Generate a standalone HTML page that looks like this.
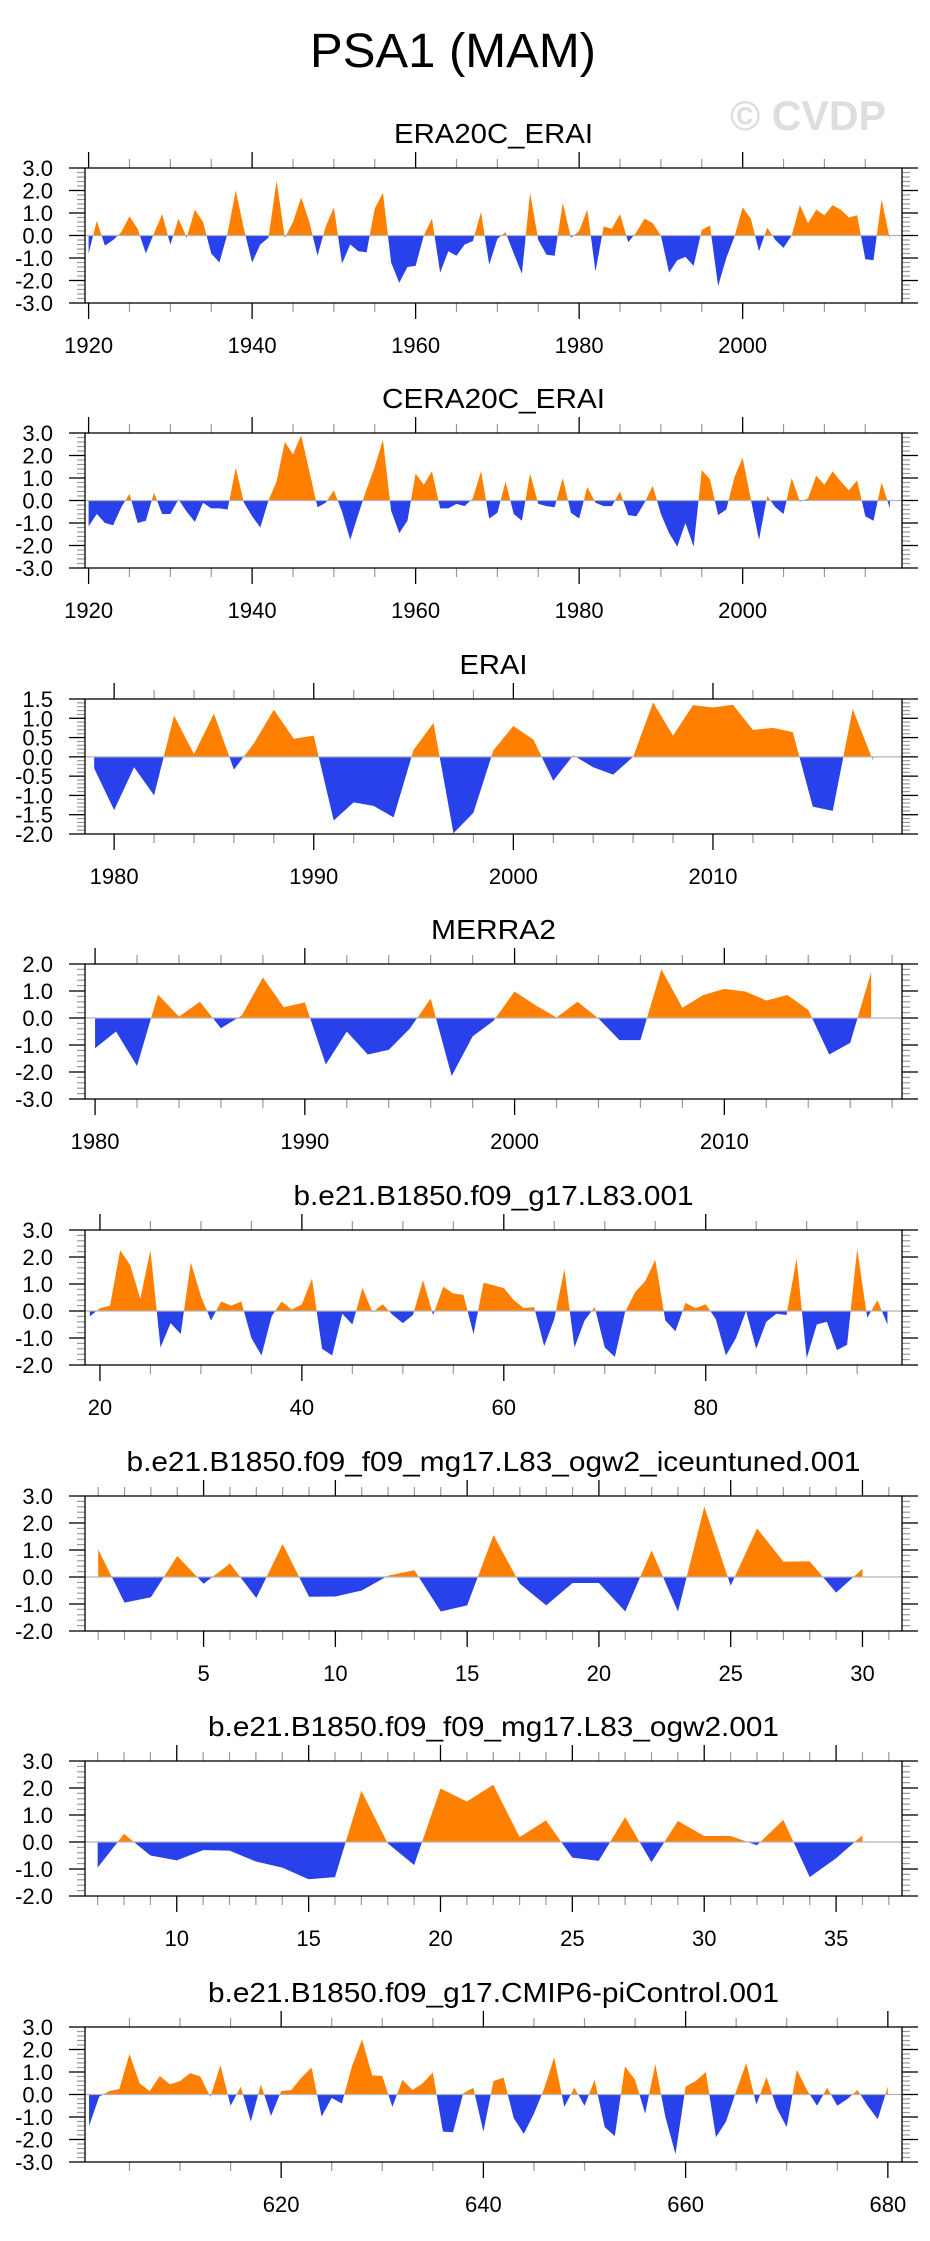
<!DOCTYPE html>
<html><head><meta charset="utf-8">
<style>
html,body{margin:0;padding:0;background:#fff;}
svg{display:block;font-family:"Liberation Sans",Arial,sans-serif;}
</style></head>
<body>
<svg id="chart" width="930" height="2241" viewBox="0 0 930 2241" xmlns="http://www.w3.org/2000/svg">
<rect x="0" y="0" width="930" height="2241" fill="#fff"/>
<text x="453" y="67" font-size="48" text-anchor="middle" textLength="286" lengthAdjust="spacingAndGlyphs">PSA1 (MAM)</text>
<text x="808" y="130" font-size="42" font-weight="bold" fill="#dedede" text-anchor="middle" textLength="156" lengthAdjust="spacingAndGlyphs">© CVDP</text>
</svg>
<script>
const titles = ["ERA20C_ERAI","CERA20C_ERAI","ERAI","MERRA2","b.e21.B1850.f09_g17.L83.001","b.e21.B1850.f09_f09_mg17.L83_ogw2_iceuntuned.001","b.e21.B1850.f09_f09_mg17.L83_ogw2.001","b.e21.B1850.f09_g17.CMIP6-piControl.001"];
const startYears = [1920,1920,1979,1980,19,1,7,601];
const era20c = [-0.8,0.65,-0.45,-0.2,0.15,0.85,0.3,-0.8,0.1,0.95,
-0.4,0.75,-0.1,1.15,0.6,-0.8,-1.2,0.1,2.0,0.3,
-1.2,-0.4,-0.1,2.45,-0.1,0.6,1.7,0.6,-0.9,0.4,
1.25,-1.25,-0.4,-0.7,-0.75,1.2,1.9,-1.2,-2.1,-1.4,
-1.35,0.0,0.75,-1.65,-0.7,-0.9,-0.4,-0.25,1.05,-1.3,
-0.15,0.15,-0.8,-1.7,1.9,-0.2,-0.85,-0.9,1.45,-0.1,
0.2,1.15,-1.6,0.4,0.3,0.95,-0.3,0.15,0.75,0.55,
0.0,-1.65,-1.1,-0.95,-1.35,0.25,0.45,-2.25,-1.0,-0.05,
1.25,0.75,-0.7,0.35,-0.2,-0.55,0.0,1.35,0.55,1.15,
0.9,1.35,1.15,0.8,0.9,-1.05,-1.1,1.6,-0.15];
const cera20c = [-1.15,-0.6,-1.0,-1.1,-0.3,0.3,-1.0,-0.9,0.35,-0.6,
-0.6,0.05,-0.5,-0.95,-0.1,-0.35,-0.35,-0.4,1.45,-0.1,
-0.7,-1.2,0.0,0.85,2.6,2.05,2.9,1.3,-0.3,-0.1,
0.45,-0.5,-1.75,-0.6,0.5,1.5,2.7,-0.45,-1.45,-0.9,
1.2,0.7,1.3,-0.35,-0.35,-0.15,-0.25,0.1,1.3,-0.8,
-0.55,0.85,-0.6,-0.9,1.2,-0.15,-0.25,-0.3,1.0,-0.55,
-0.8,0.6,-0.1,-0.25,-0.25,0.4,-0.65,-0.7,-0.1,0.65,
-0.6,-1.45,-2.05,-1.0,-2.05,1.35,0.95,-0.65,-0.4,1.05,
1.9,0.05,-1.75,0.2,-0.3,-0.6,1.0,-0.05,0.1,1.1,
0.7,1.3,0.85,0.45,0.9,-0.7,-0.9,0.8,-0.35];
const erai = [-0.3,-1.38,-0.27,-1.0,1.07,0.07,1.12,-0.33,0.35,1.22,0.47,0.55,-1.65,-1.18,-1.27,-1.57,0.18,0.88,-1.98,-1.45,0.17,0.8,0.45,-0.62,0.04,-0.27,-0.46,0.0,1.41,0.55,1.34,1.28,1.35,0.70,0.75,0.64,-1.29,-1.4,1.24,-0.08];
const merra2 = [-1.12,-0.5,-1.78,0.87,0.05,0.6,-0.38,0.1,1.5,0.4,0.58,-1.72,-0.5,-1.35,-1.18,-0.4,0.72,-2.15,-0.68,-0.1,0.98,0.47,0.02,0.6,-0.02,-0.82,-0.82,1.8,0.38,0.85,1.08,0.98,0.65,0.85,0.3,-1.35,-0.92,1.7];
const l83 = [-0.2,0.1,0.2,2.25,1.7,0.45,2.25,-1.35,-0.45,-0.85,1.8,0.55,-0.35,0.35,0.2,0.35,-1.0,-1.65,-0.2,0.35,0.05,0.25,1.2,-1.4,-1.65,-0.1,-0.5,0.85,-0.05,0.25,-0.15,-0.45,-0.15,1.15,-0.15,0.9,0.65,0.6,-0.85,1.05,0.95,0.85,0.4,0.1,0.15,-1.3,-0.3,1.55,-1.35,-0.35,0.15,-1.35,-1.7,-0.05,0.7,1.1,1.9,-0.35,-0.75,0.3,0.1,0.25,-0.3,-1.65,-1.0,0.0,-1.4,-0.4,-0.1,-0.15,1.95,-1.75,-0.5,-0.4,-1.45,-1.25,2.3,-0.25,0.4,-0.5];
const iceuntuned = [1.02,-0.95,-0.75,0.78,-0.25,0.5,-0.78,1.22,-0.73,-0.72,-0.5,0.05,0.25,-1.28,-1.05,1.55,-0.25,-1.05,-0.22,-0.22,-1.28,0.98,-1.28,2.6,-0.32,1.8,0.57,0.58,-0.58,0.3];
const ogw2 = [-0.95,0.3,-0.5,-0.68,-0.3,-0.32,-0.72,-0.95,-1.38,-1.3,1.9,-0.05,-0.85,1.98,1.5,2.12,0.18,0.8,-0.58,-0.7,0.92,-0.75,0.78,0.22,0.22,-0.12,0.82,-1.3,-0.6,0.25];
const picontrol = [-1.4,-0.1,0.15,0.25,1.8,0.5,0.15,0.82,0.45,0.6,0.95,0.8,-0.1,1.3,-0.5,0.35,-1.2,0.45,-0.95,0.15,0.2,0.75,1.2,-0.98,-0.15,-0.4,1.25,2.45,0.85,0.82,-0.55,0.65,0.2,0.5,0.98,-1.65,-1.68,0.05,0.3,-1.65,0.6,0.75,-1.05,-1.75,-0.85,0.25,1.65,-0.55,0.3,-0.5,0.65,-1.45,-1.85,1.25,0.65,-0.85,1.35,-1.0,-2.65,0.35,0.6,1.0,-1.9,-1.2,0.15,1.4,-0.45,0.78,-0.6,-1.45,1.1,0.2,-0.5,0.3,-0.5,-0.2,0.2,-0.5,-1.1,0.35];
const seriesList = [era20c,cera20c,erai,merra2,l83,iceuntuned,ogw2,picontrol];
const xMins = [1919.56,1919.56,1978.54,1979.52,18.52,0.5,6.52,600.6];
const xMaxs = [2019.49,2019.49,2019.47,2018.47,99.44,31.5,37.5,681.4];
const yMins = [-3,-3,-2,-3,-2,-2,-2,-3];
const yMaxs = [3,3,1.5,2,3,3,3,3];
const yLabelSteps = [1,1,0.5,1,1,1,1,1];
const yMinorSteps = [0.2,0.2,0.1,0.2,0.2,0.2,0.2,0.2];
const xMajorSteps = [20,20,10,10,20,5,5,20];
const xMinorSteps = [5,5,2,2,5,1,1,5];
const titleWidths = [199,223,68,125,400,734,571,571];

const NS = "http://www.w3.org/2000/svg";
const svg = document.getElementById('chart');
const BX0 = 85, BX1 = 902, BH = 135;
const tops = [168,433,699,964,1230,1496,1761,2027];
function mk(tag, attrs, parent){ const e=document.createElementNS(NS,tag); for(const k in attrs) e.setAttribute(k,attrs[k]); (parent||svg).appendChild(e); return e; }

for(let p=0;p<8;p++){
  const top=tops[p], bot=top+BH;
  const g = mk('g',{});
  
  
  const xs = v => BX0 + (v - xMins[p])/(xMaxs[p]-xMins[p])*(BX1-BX0);
  const ys = v => top + (yMaxs[p]-v)/(yMaxs[p]-yMins[p])*BH;
  const zy = ys(0);
  const t = mk('text',{x:493.5,y:top-25,'font-size':28,'text-anchor':'middle',textLength:titleWidths[p],lengthAdjust:'spacingAndGlyphs'},g);
  t.textContent = titles[p];
  
  
  const defs = mk('defs',{},g);
  const cu = mk('clipPath',{id:'cu'+p},defs); mk('rect',{x:BX0,y:top,width:BX1-BX0,height:zy-top},cu);
  const cd = mk('clipPath',{id:'cd'+p},defs); mk('rect',{x:BX0,y:zy,width:BX1-BX0,height:bot-zy},cd);
  const data = seriesList[p];
  let pts = xs(startYears[p]).toFixed(2)+','+zy.toFixed(2)+' ';
  data.forEach((v,i)=>{ pts += xs(startYears[p]+i).toFixed(2)+','+ys(v).toFixed(2)+' '; });
  pts += xs(startYears[p]+data.length-1).toFixed(2)+','+zy.toFixed(2);
  const up = mk('polygon',{points:pts,fill:'#ff8000','clip-path':'url(#cu'+p+')'},g);
  
  
  const dn = mk('polygon',{points:pts,fill:'#2841ea','clip-path':'url(#cd'+p+')'},g);
  
  
  const zl = mk('line',{x1:BX0,x2:BX1,y1:zy,y2:zy,stroke:'#b4b4b4','stroke-width':1.2},g);
  
  
  const nMin = Math.round((yMaxs[p]-yMins[p])/yMinorSteps[p]);
  for(let k=0;k<=nMin;k++){
    const v = yMins[p]+k*yMinorSteps[p]; const y=ys(v);
    const isMaj = Math.abs(v/yLabelSteps[p]-Math.round(v/yLabelSteps[p]))<1e-6;
    const L = isMaj?16:8;
    mk('line',{x1:BX0-L,x2:BX0,y1:y,y2:y,stroke:isMaj?'#000':'#999','stroke-width':isMaj?1.3:1.2},g);
    mk('line',{x1:BX1,x2:BX1+L,y1:y,y2:y,stroke:isMaj?'#000':'#999','stroke-width':isMaj?1.3:1.2},g);
    if(isMaj){
      const lb = mk('text',{x:53,y:y+8,'font-size':22,'text-anchor':'end'},g);
      lb.textContent = v.toFixed(1);
      
      
    }
  }
  const s0 = Math.ceil(xMins[p]/xMinorSteps[p])*xMinorSteps[p];
  for(let v=s0; v<=xMaxs[p]; v+=xMinorSteps[p]){
    const x = xs(v);
    const isMaj = v % xMajorSteps[p] === 0;
    const L = isMaj?16:9;
    mk('line',{x1:x,x2:x,y1:top-L,y2:top,stroke:isMaj?'#000':'#999','stroke-width':isMaj?1.3:1.2},g);
    mk('line',{x1:x,x2:x,y1:bot,y2:bot+L,stroke:isMaj?'#000':'#999','stroke-width':isMaj?1.3:1.2},g);
    if(isMaj){
      const lb = mk('text',{x:x,y:bot+50,'font-size':22,'text-anchor':'middle'},g);
      lb.textContent = String(v);
      
      
    }
  }
  const frame = mk('rect',{x:BX0,y:top,width:BX1-BX0,height:BH,fill:'none',stroke:'#000','stroke-width':1.3},g);
  
  
}
</script>
</body></html>
